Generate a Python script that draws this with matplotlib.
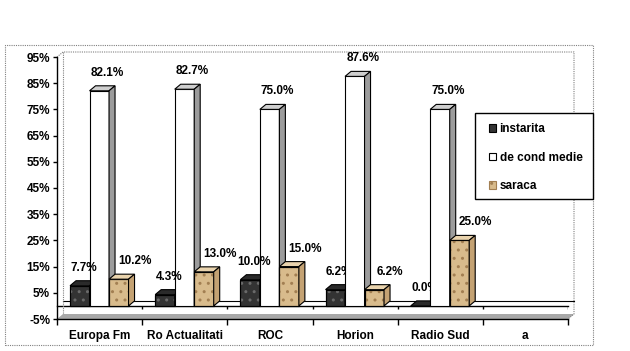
import numpy as np
import matplotlib
matplotlib.use("Agg")
import matplotlib.pyplot as plt
from matplotlib.patches import Polygon, Rectangle, Patch

plt.rcParams["font.family"] = ["Liberation Sans", "DejaVu Sans"]
plt.rcParams["font.weight"] = "bold"
plt.rcParams["font.size"] = 8.5

categories = ["Europa Fm", "Ro Actualitati", "ROC", "Horion", "Radio Sud", "a"]
series_names = ["instarita", "de cond medie", "saraca"]
instarita = [7.7, 4.3, 10.0, 6.2, 0.0]
cond_medie = [82.1, 82.7, 75.0, 87.6, 75.0]
saraca = [10.2, 13.0, 15.0, 6.2, 25.0]
yticks = [-5, 5, 15, 25, 35, 45, 55, 65, 75, 85, 95]

W, H = 630, 351
fig = plt.figure(figsize=(W / 100, H / 100), dpi=100)
ax_l, ax_b, ax_w, ax_h = 57, 32, 511, 262
ax = fig.add_axes([ax_l / W, ax_b / H, ax_w / W, ax_h / H])
ncat = len(categories)
ax.set_xlim(0, ncat)
ax.set_ylim(-5, 95)

# depth of the 3d effect, pixels -> data units
DX, DY = 6, 5
ddx = DX * ncat / ax_w
ddy = DY * 100 / ax_h

# back wall (dotted) and floor slab
wall = dict(color="#808080", lw=0.8, ls=(0, (1, 1)), clip_on=False)
ax.plot([0, ddx, ncat + ddx, ncat + ddx, ncat], [95, 95 + ddy, 95 + ddy, -5 + ddy, -5], **wall)
ax.plot([ddx, ddx], [95 + ddy, -5 + ddy], **wall)
ax.add_patch(Polygon([(0, -5), (ncat, -5), (ncat + ddx, -5 + ddy), (ddx, -5 + ddy)],
                     closed=True, fc="#a8a8a8", ec="none", clip_on=False, zorder=1))
ax.plot([ddx, ncat + ddx], [ddy, ddy], color="black", lw=0.8, clip_on=False, zorder=1)
ax.plot([0, ncat], [0, 0], color="black", lw=1, clip_on=False, zorder=1)
ax.vlines(range(1, ncat + 1), -1.2, 0, color="black", lw=1, zorder=1)

styles = [
    dict(front="#333333", top="#2a2a2a", side="#1e1e1e", hatch_c="#6a6a6a"),
    dict(front="white", top="#cfcfcf", side="#9c9c9c", hatch_c=None),
    dict(front="#d8bb8c", top="#e9d3ad", side="#c4a273", hatch_c="#a27f52"),
]
label_dx = [1, 5, 13]
bw = 0.229
start = 0.153
z = 2
for ci in range(len(instarita)):
    for si, vals in enumerate([instarita, cond_medie, saraca]):
        v = vals[ci]
        st = styles[si]
        x0 = ci + start + si * bw
        x1 = x0 + bw
        front = Rectangle((x0, 0), bw, v, fc=st["front"], ec="black", lw=0.8, zorder=z)
        ax.add_patch(front)
        if st["hatch_c"] and v > 0:
            ax.add_patch(Rectangle((x0, 0), bw, v, fc="none", ec=st["hatch_c"], lw=0,
                                   hatch="..", zorder=z))
            ax.add_patch(Rectangle((x0, 0), bw, v, fc="none", ec="black", lw=0.8, zorder=z))
        top = Polygon([(x0, v), (x1, v), (x1 + ddx, v + ddy), (x0 + ddx, v + ddy)],
                      closed=True, fc=st["top"], ec="black", lw=0.8, zorder=z)
        side = Polygon([(x1, 0), (x1 + ddx, ddy), (x1 + ddx, v + ddy), (x1, v)],
                       closed=True, fc=st["side"], ec="black", lw=0.8, zorder=z)
        ax.add_patch(top)
        ax.add_patch(side)
        ax.annotate(f"{v:.1f}%", xy=((x0 + x1) / 2 + ddx / 2, v + ddy),
                    xytext=(label_dx[si], 13), textcoords="offset pixels",
                    ha="center", va="center", fontweight="bold", zorder=10)
        z += 1

for sp in ["top", "right"]:
    ax.spines[sp].set_visible(False)
ax.spines["left"].set_linewidth(1)
ax.spines["bottom"].set_linewidth(1)
ax.set_yticks(yticks)
ax.set_yticklabels([f"{t}%" for t in yticks])
ax.tick_params(axis="y", length=3, width=1, pad=2)
ax.set_xticks(range(ncat + 1))
ax.set_xticklabels([])
ax.set_xticks(np.arange(ncat) + 0.5, minor=True)
ax.set_xticklabels(categories, minor=True)
ax.tick_params(axis="x", which="major", length=4, width=1)
ax.tick_params(axis="x", which="minor", length=0, pad=8)
ax.patch.set_visible(False)

# outer chart border
fig.patches.append(Rectangle((5 / W, 6 / H), 588 / W, 300 / H, transform=fig.transFigure,
                             fill=False, ec="#808080", lw=0.8, ls=(0, (1, 1))))

# legend box drawn separately, legend itself frameless
fig.patches.append(Rectangle((475 / W, 1 - 199 / H), 118 / W, 86 / H, transform=fig.transFigure,
                             fc="white", ec="black", lw=1, zorder=5))
handles = [
    Patch(fc="#333333", ec="black", lw=0.8),
    Patch(fc="white", ec="black", lw=0.8),
    Patch(fc="#d8bb8c", ec="#a27f52", lw=0.8, hatch=".."),
]
leg = fig.legend(handles, series_names, loc="upper left",
                 bbox_to_anchor=(489 / W, 1 - 123 / H), borderaxespad=0, borderpad=0,
                 frameon=False, handlelength=0.6, handleheight=0.6, handletextpad=0.3,
                 labelspacing=1.4)
leg.set_zorder(6)

fig.savefig("out.png", dpi=100)
